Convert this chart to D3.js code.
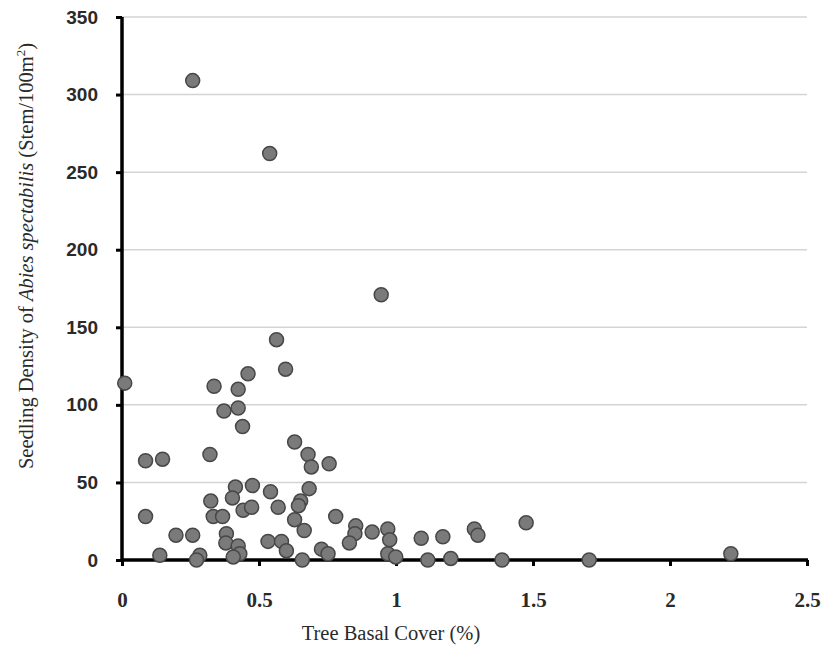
<!DOCTYPE html>
<html>
<head>
<meta charset="utf-8">
<script src="https://cdn.jsdelivr.net/npm/d3@7"></script>
<style>
  body { margin: 0; background: #fff; }
  svg { display: block; }
</style>
</head>
<body>
<svg id="chart" width="827" height="654"></svg>
<script>
// tree basal cover (%) vs seedling density
var basalCover = [
  0.01, 0.258, 0.539, 0.946, 0.564, 0.597, 0.46,
  0.336, 0.424, 0.372, 0.424, 0.44,
  0.086, 0.148, 0.321, 0.63, 0.679, 0.691, 0.756,
  0.476, 0.414, 0.403, 0.324, 0.542, 0.683, 0.652, 0.644,
  0.442, 0.473, 0.57, 0.086, 0.333, 0.367, 0.78,
  0.63, 0.665, 0.853, 0.85, 0.83, 0.913, 0.97, 0.977, 0.97,
  1.092, 1.171, 1.286, 1.299, 1.475,
  0.197, 0.258, 0.381, 0.379, 0.533, 0.582, 0.6,
  0.424, 0.43, 0.406, 0.138, 0.284, 0.272, 0.658,
  0.728, 0.752, 0.999, 1.116, 1.2, 1.387, 1.705, 2.222
];
var seedlingDensity = [
  114, 309, 262, 171, 142, 123, 120,
  112, 110, 96, 98, 86,
  64, 65, 68, 76, 68, 60, 62,
  48, 47, 40, 38, 44, 46, 38, 35,
  32, 34, 34, 28, 28, 28, 28,
  26, 19, 22, 17, 11, 18, 20, 13, 4,
  14, 15, 20, 16, 24,
  16, 16, 17, 11, 12, 12, 6,
  9, 4, 2, 3, 3, 0, 0,
  7, 4, 2, 0, 1, 0, 0, 4
];
var xTicks = [0, 0.5, 1, 1.5, 2, 2.5];
var yTicks = [0, 50, 100, 150, 200, 250, 300, 350];

var svg = d3.select("#chart");
var margin = {left: 122, right: 20, top: 17, bottom: 94};
var width = 807 - margin.left, height = 560 - margin.top;

var x = d3.scaleLinear().domain([0, 2.5]).range([0, width]);
var y = d3.scaleLinear().domain([0, 350]).range([height, 0]);

var g = svg.append("g").attr("transform", "translate(" + margin.left + "," + margin.top + ")");

// gridlines
g.selectAll("line.grid")
  .data(yTicks.filter(function(d) { return d > 0; }))
  .enter().append("line")
  .attr("class", "grid")
  .attr("x1", 0).attr("x2", width)
  .attr("y1", function(d) { return y(d); })
  .attr("y2", function(d) { return y(d); })
  .attr("stroke", "#d4d4d4")
  .attr("stroke-width", 1.5);

// axes
var yAxis = d3.axisLeft(y).tickValues(yTicks).tickSize(6).tickPadding(18).tickFormat(d3.format("d"));
var xAxis = d3.axisBottom(x).tickValues(xTicks).tickSize(6).tickPadding(26).tickFormat(function(d) { return d; });

var yG = g.append("g").call(yAxis);
var xG = g.append("g").attr("transform", "translate(0," + height + ")").call(xAxis);

[yG, xG].forEach(function(a) {
  a.select(".domain").attr("stroke", "#000").attr("stroke-width", 3.5);
  a.selectAll(".tick line").attr("stroke", "#000").attr("stroke-width", 3);
});
yG.select(".domain").attr("d", "M0," + (height + 1) + "V0");
xG.select(".domain").attr("d", "M-1,0H" + (width + 1));

yG.selectAll(".tick text")
  .attr("font-family", "'Liberation Sans', Arial, sans-serif")
  .attr("font-weight", "bold")
  .attr("font-size", 19)
  .attr("fill", "#2a2a2a");
xG.selectAll(".tick text")
  .attr("font-family", "'Liberation Serif', 'Times New Roman', serif")
  .attr("font-weight", "bold")
  .attr("font-size", 21)
  .attr("fill", "#2a2a2a");

// points
var pts = basalCover.map(function(d, i) { return {x: d, y: seedlingDensity[i]}; });
g.selectAll("circle.pt")
  .data(pts)
  .enter().append("circle")
  .attr("class", "pt")
  .attr("cx", function(d) { return x(d.x); })
  .attr("cy", function(d) { return y(d.y); })
  .attr("r", 7)
  .attr("fill", "#7a7a7a")
  .attr("stroke", "#474747")
  .attr("stroke-width", 1.5);

// axis titles
svg.append("text")
  .attr("x", 391).attr("y", 640)
  .attr("text-anchor", "middle")
  .attr("font-family", "'Liberation Serif', 'Times New Roman', serif")
  .attr("font-size", 20.5)
  .attr("fill", "#2a2a2a")
  .text("Tree Basal Cover (%)");

var yt = svg.append("text")
  .attr("transform", "translate(33,256) rotate(-90)")
  .attr("text-anchor", "middle")
  .attr("font-family", "'Liberation Serif', 'Times New Roman', serif")
  .attr("font-size", 20.5)
  .attr("fill", "#2a2a2a");
yt.append("tspan").text("Seedling Density of ");
yt.append("tspan").attr("font-style", "italic").text("Abies spectabilis");
yt.append("tspan").text(" (Stem/100m");
yt.append("tspan").attr("font-size", 13).attr("dy", -8).text("2");
yt.append("tspan").attr("dy", 8).text(")");
</script>
</body>
</html>
